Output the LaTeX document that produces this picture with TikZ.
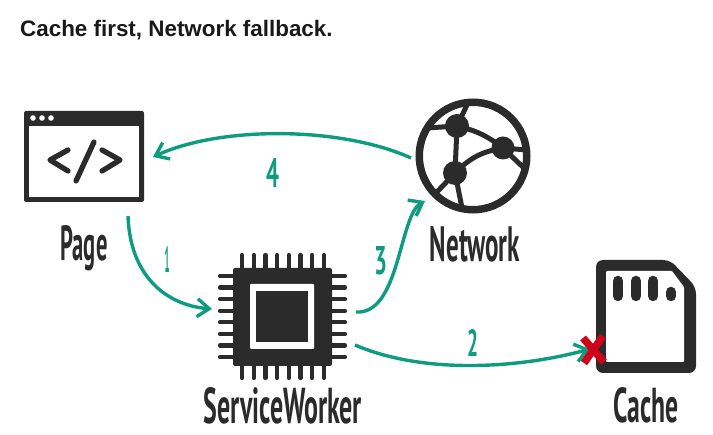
\documentclass[tikz,border=0pt]{standalone}
\usepackage{fontspec}
\usepackage{graphicx}
\setmainfont{Liberation Sans}
\newfontfamily\handfont{PT Sans}
\usetikzlibrary{arrows.meta, positioning, calc}
\definecolor{cInk}{RGB}{43,43,43}
\definecolor{cTeal}{RGB}{14,156,128}
\definecolor{cCross}{RGB}{208,2,27}
\newcommand{\handtext}[3]{\resizebox{#1pt}{#2pt}{\handfont\bfseries #3}}
\tikzset{
    iconbody/.style={rectangle, rounded corners=2pt, draw=none, fill=cInk, inner sep=0pt},
    iconhole/.style={rectangle, draw=none, fill=white, inner sep=0pt},
    chippin/.style={line width=4.2pt, draw=cInk, line cap=round},
    globeline/.style={line width=5pt, draw=cInk},
    codeline/.style={line width=5.3pt, draw=cInk, line cap=round, line join=round},
    flowarrow/.style={-{Straight Barb[length=12pt, width=18pt, line width=3.4pt]}, line width=3.4pt, draw=cTeal},
    handlabel/.style={inner sep=0pt, text=cInk},
    steplabel/.style={inner sep=0pt, text=cTeal},
}
\begin{document}
\begin{tikzpicture}[x=1pt, y=-1pt]
    \useasboundingbox (0,0) rectangle (713,435);
    \node[anchor=base west, inner sep=0pt, text=black!90, font=\bfseries\fontsize{22.4}{26}\selectfont] (title) at (20,37) {Cache first, Network fallback.};

    % page window
    \node[iconbody, minimum width=120pt, minimum height=91pt] (page) at (84,156.5) {};
    \node[iconhole, minimum width=110pt, minimum height=71pt] (pageinner) at (84,161.5) {};
    \foreach \dotx in {33,42,51}
        \fill[white] (\dotx,118) circle (2.8pt);
    \draw[codeline] (68,150) -- (50,160) -- (68,171);
    \draw[codeline] (94,142) -- (76,181);
    \draw[codeline] (102,150) -- (120,160) -- (102,171);

    % chip
    \foreach \pin in {0,...,7} {
        \draw[chippin] ({242+\pin*11.7},255) -- ({242+\pin*11.7},378);
        \draw[chippin] (220,{276+\pin*11.6}) -- (345,{276+\pin*11.6});
    }
    \node[iconbody, minimum width=99pt, minimum height=98pt] (chip) at (282.5,317) {};
    \node[iconhole, rounded corners=1pt, minimum width=64pt, minimum height=65pt] (chipring) at (282,316.5) {};
    \node[iconbody, rounded corners=0pt, minimum width=52pt, minimum height=51pt] (chipcore) at (282,316.5) {};

    % network globe
    \coordinate (hubA) at (457,126);
    \coordinate (hubB) at (503,148);
    \coordinate (hubC) at (455,173);
    \draw[globeline] (hubA) -- (467,105) (hubA) -- (427,128) (hubA) -- (hubC);
    \draw[globeline] (hubB) -- (527,150) (hubB) -- (526,170);
    \draw[globeline] (hubC) -- (436,193) (hubC) -- (462,208);
    \draw[globeline] (hubA) to[bend left=12] (hubB);
    \draw[globeline] (hubC) to[bend left=18] (hubB);
    \fill[cInk] (hubA) circle (12pt) (hubB) circle (11.5pt) (hubC) circle (12pt);
    \node[circle, draw=cInk, line width=7.5pt, minimum size=107.5pt, inner sep=0pt] (network) at (473,156) {};

    % cache card
    \fill[cInk, rounded corners=7pt] (596,260) -- (670,260) -- (696,287) -- (696,373) -- (596,373) -- cycle;
    \fill[white, rounded corners=1pt] (606,271) -- (672,271) -- (684,287) -- (684,362) -- (606,362) -- cycle;
    \foreach \contact in {618,636,653}
        \draw[line width=10.5pt, draw=cInk, line cap=round] (\contact,281) -- (\contact,296);
    \draw[line width=10.5pt, draw=cInk, line cap=round] (671,292) -- (671,296);

    % connector ends
    \coordinate (pageout) at (128,216);
    \coordinate (chipin) at (212,309);
    \coordinate (chipup) at (356,312);
    \coordinate (chipdown) at (355,345);
    \coordinate (netin) at (425,201);
    \coordinate (netout) at (411,158);
    \coordinate (pagein) at (153,157);
    \coordinate (cachein) at (590,349);

    \draw[flowarrow] (pageout) .. controls (130,275) and (165,305) .. (chipin);
    \draw[flowarrow] (chipdown) .. controls (425,375) and (520,368) .. (cachein);
    \draw[flowarrow] (chipup) .. controls (400,315) and (399,215) .. (netin);
    \draw[flowarrow] (netout) .. controls (340,126) and (220,126) .. (pagein);

    % no cache hit
    \draw[line width=7.5pt, draw=cCross] (583,338) -- (604,362);
    \draw[line width=7.5pt, draw=cCross] (603,336) -- (584,363);

    \node[handlabel] (pagelabel) at (84,248) {\handtext{47}{35}{Page}};
    \node[handlabel] (chiplabel) at (283,406) {\handtext{158}{36}{ServiceWorker}};
    \node[handlabel] (networklabel) at (475,244.5) {\handtext{90}{35}{Network}};
    \node[handlabel] (cachelabel) at (646,405) {\handtext{65}{35}{Cache}};

    \node[steplabel] (stepone) at (167,260) {\handtext{5}{26}{1}};
    \node[steplabel] (steptwo) at (473,343) {\handtext{11}{27}{2}};
    \node[steplabel] (stepthree) at (381,261) {\handtext{13}{28}{3}};
    \node[steplabel] (stepfour) at (273,173) {\handtext{13}{29}{4}};
\end{tikzpicture}
\end{document}
